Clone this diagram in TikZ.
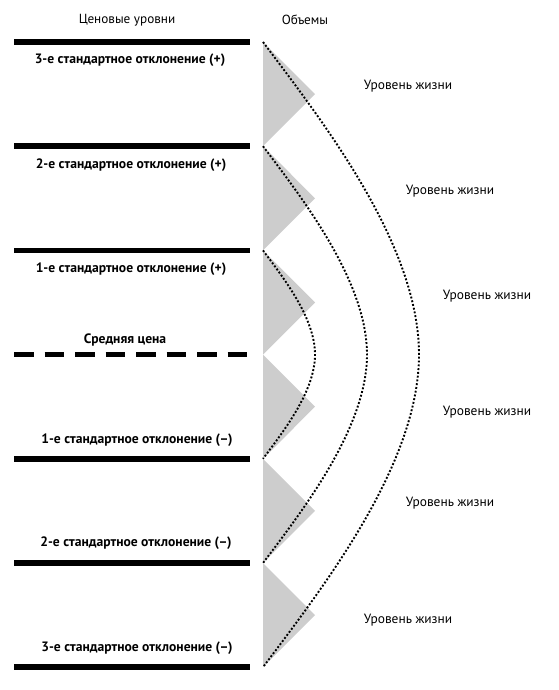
\documentclass[tikz,border=0pt]{standalone}
\usepackage{fontspec}
\setmainfont{PT Sans}
\usetikzlibrary{positioning}
\definecolor{volgray}{HTML}{CDCDCD}

\tikzset{
  lvlbar/.style={line width=5.5pt},
  lvltext/.style={font=\bfseries\fontsize{13.6}{15}\selectfont},
  headtext/.style={font=\fontsize{13.2}{15}\selectfont},
  lifetext/.style={font=\fontsize{13.4}{15}\selectfont},
  lifeline/.style={line width=1.9pt,dash pattern=on 1.9pt off 1.9pt}
}

\begin{document}
\begin{tikzpicture}[x=1pt,y=-1pt]

  \def\xl{14}     % bar left end
  \def\xr{250}    % bar right end
  \def\xv{263}    % volume axis
  \def\xa{315}    % triangle apex
  \def\dy{104.2}  % level spacing
  \def\ym{354.6}  % mean level

  \useasboundingbox (0,0) rectangle (558,690);

  % ---- volume triangles ----
  \foreach \i in {0,...,5}
    \fill[volgray] (\xv,42+\i*\dy) -- (\xa,42+\i*\dy+0.5*\dy)
          -- (\xv,42+\i*\dy+\dy) -- cycle;

  % ---- level points on the volume axis ----
  \foreach \i in {0,...,6}
    \coordinate (v\i) at (\xv,42+\i*\dy);
  \coordinate (c1) at (419,\ym);
  \coordinate (c2) at (367,\ym);
  \coordinate (c3) at (315,\ym);

  % ---- price level bars ----
  \foreach \i in {0,1,2,4,5,6}
    \draw[lvlbar] (\xl,42+\i*\dy) -- (\xr,42+\i*\dy);
  \draw[lvlbar,dash pattern=on 19.5pt off 11pt] (\xl,\ym) -- (247,\ym);

  % ---- life curves ----
  \draw[lifeline] (v0) .. controls +(60,80) and +(0,-110) .. (c1)
                       .. controls +(0,110) and +(60,-80) .. (v6);
  \draw[lifeline] (v1) .. controls +(40,53) and +(0,-73) .. (c2)
                       .. controls +(0,73) and +(40,-53) .. (v5);
  \draw[lifeline] (v2) .. controls +(20,27) and +(0,-37) .. (c3)
                       .. controls +(0,37) and +(20,-27) .. (v4);

  % ---- headers ----
  \node[headtext] (hprice) at (127,20) {Ценовые уровни};
  \node[headtext] (hvol) at (305,20) {Объемы};

  % ---- level labels ----
  \node[lvltext] (p3) at (130,60) {3-е стандартное отклонение (+)};
  \node[lvltext] (p2) at (131,165) {2-е стандартное отклонение (+)};
  \node[lvltext] (p1) at (131,269) {1-е стандартное отклонение (+)};
  \node[lvltext] (mean) at (125,340) {Средняя цена};
  \node[lvltext] (m1) at (137,440) {1-е стандартное отклонение (–)};
  \node[lvltext] (m2) at (136,543) {2-е стандартное отклонение (–)};
  \node[lvltext] (m3) at (137,648) {3-е стандартное отклонение (–)};

  % ---- life level labels ----
  \node[lifetext] (l1) at (408,86) {Уровень жизни};
  \node[lifetext] (l2) at (450,191) {Уровень жизни};
  \node[lifetext] (l3) at (487,296) {Уровень жизни};
  \node[lifetext] (l4) at (487,412) {Уровень жизни};
  \node[lifetext] (l5) at (450,503) {Уровень жизни};
  \node[lifetext] (l6) at (408,620) {Уровень жизни};

\end{tikzpicture}
\end{document}
